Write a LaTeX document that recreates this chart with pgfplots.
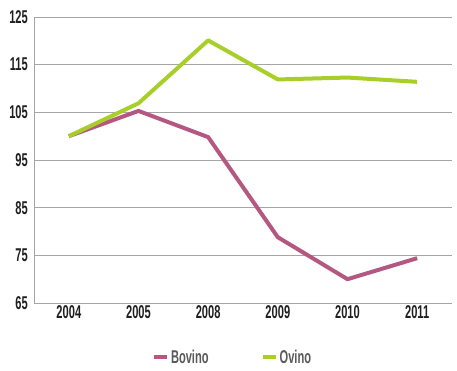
\documentclass[border=0pt]{standalone}
\usepackage{fontspec}
\setmainfont{Liberation Sans}[FakeStretch=0.6]
\usepackage{pgfplots}
\pgfplotsset{compat=1.18}
\definecolor{bov}{RGB}{180,88,130}
\definecolor{ovi}{RGB}{168,206,42}
\definecolor{gridc}{RGB}{165,165,165}
\begin{document}
\begin{tikzpicture}
\useasboundingbox (-34pt,-67pt) rectangle (423pt,303pt);
\begin{axis}[
 scale only axis, width=418pt, height=286pt,
 xmin=-0.5, xmax=5.5, ymin=65, ymax=125,
 xtick={0,...,5}, xticklabels={2004,2005,2008,2009,2010,2011},
 ytick={65,75,...,125},
 ymajorgrids, major grid style={gridc, line width=0.8pt},
 axis x line*=bottom, axis y line*=left,
 axis line style={gridc, line width=0.8pt, -},
 major tick length=0pt,
 tick label style={font=\fontsize{18.5}{18.5}\selectfont\bfseries, text=black!88},
 xticklabel style={inner sep=0pt, yshift=-2pt},
 yticklabel style={inner sep=0pt, xshift=-6pt},
 /pgf/number format/assume math mode=true,
 legend style={at={(0.475,-0.189)}, anchor=center, draw=none, fill=none,
   font=\fontsize{18.5}{18.5}\selectfont\bfseries, text=black!65,
   /tikz/every even column/.append style={column sep=50pt}},
 legend columns=2,
 legend cell align=left,
 legend image code/.code={\draw[line width=4pt] (0pt,0pt) -- (13pt,0pt);},
]
\addplot[bov, line width=4pt, line join=round] coordinates {
 (0,100) (1,105.3) (2,99.8) (3,78.8) (4,70.0) (5,74.4)};
\addlegendentry{Bovino}
\addplot[ovi, line width=4pt, line join=round] coordinates {
 (0,100) (1,106.9) (2,120.1) (3,111.9) (4,112.3) (5,111.4)};
\addlegendentry{Ovino}
\end{axis}
\end{tikzpicture}
\end{document}
